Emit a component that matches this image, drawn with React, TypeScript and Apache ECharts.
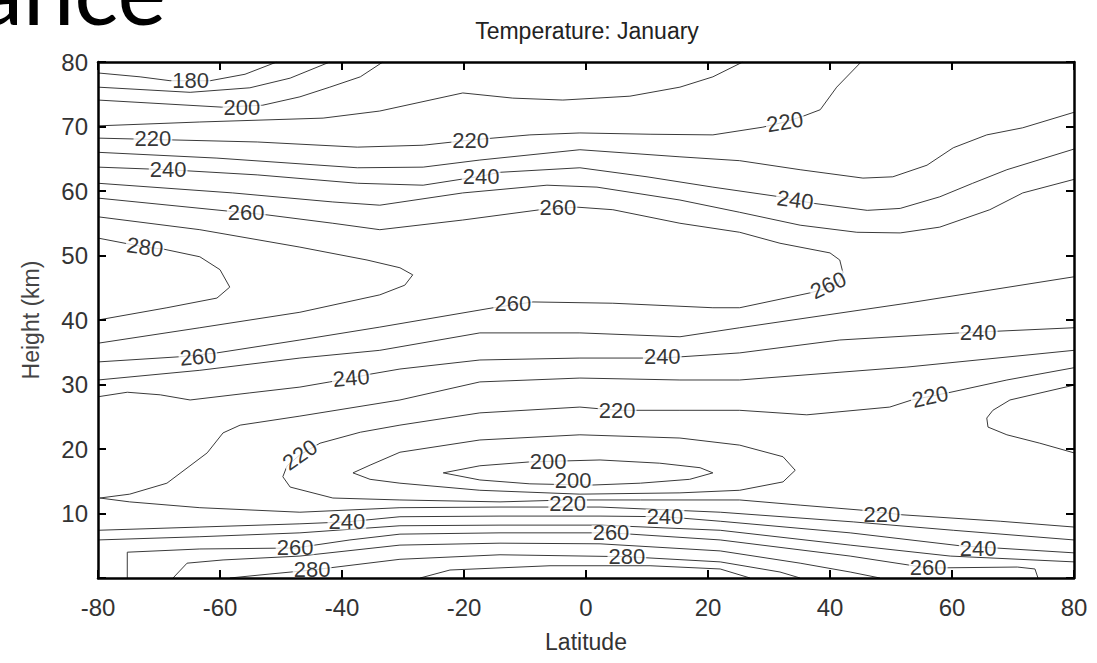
import React, { useEffect, useRef } from "react";
import * as echarts from "echarts";

// Contour lines, [latitude (deg), height (km)]
const c180 = [[-80, 78.3], [-73.1, 77.7], [-68.2, 77.1], [-61.6, 77.1], [-55.9, 78.1], [-50.7, 80]];
const c190 = [[-80, 76.1], [-64.9, 75.3], [-55.1, 76.0], [-48.5, 77.5], [-42.0, 80]];
const c200a = [[-80, 74.1], [-59.7, 73.0], [-53.0, 73.3], [-46.9, 74.6], [-42.0, 76.1], [-37.0, 77.7], [-33.3, 80]];
const c210a = [[-80, 70.1], [-63.3, 70.7], [-43.1, 71.3], [-33.8, 72.4], [-20.2, 75.2], [-12.0, 74.4], [-3.8, 74.1], [7.2, 74.7], [15.4, 76.1], [20.8, 77.7], [25.7, 80]];
const c220a = [[-80, 68.2], [-53.9, 67.6], [-37.5, 66.8], [-26.7, 67.1], [-18.9, 67.9], [-9.2, 68.7], [-1.0, 69.0], [10.5, 68.8], [20.8, 68.7], [29.0, 69.9], [32.6, 70.7], [35.6, 71.6], [38.4, 72.6], [41.1, 76.1], [45.1, 80]];
const c230a = [[-80, 66.0], [-60.5, 65.1], [-37.5, 63.6], [-26.7, 63.7], [-17.4, 64.8], [-1.0, 66.4], [15.4, 65.3], [25.2, 64.7], [35.1, 63.3], [45.4, 62.0], [50.3, 62.2], [55.9, 64.0], [60.2, 66.7], [65.7, 68.7], [71.6, 69.8], [80, 72.2]];
const c240a = [[-80, 63.7], [-68.5, 63.3], [-53.9, 62.5], [-37.5, 61.2], [-26.7, 60.9], [-17.2, 62.3], [-14.1, 62.9], [-1.0, 63.6], [10.0, 62.2], [20.8, 60.6], [31.8, 59.1], [34.3, 58.6], [37.2, 58.1], [46.1, 57.0], [51.5, 57.3], [58.0, 59.1], [63.4, 61.2], [69.0, 63.3], [80, 66.5]];
const c250a = [[-80, 61.2], [-57.9, 59.7], [-41.5, 58.3], [-33.8, 57.8], [-20.2, 59.7], [-6.4, 60.9], [1.8, 60.6], [15.4, 58.6], [25.2, 56.7], [35.1, 54.7], [44.4, 53.6], [51.5, 53.5], [58.0, 54.4], [66.2, 57.1], [71.6, 59.7], [80, 61.8]];
const c260a = [[-80, 58.9], [-55.7, 56.6], [-52.3, 56.3], [-41.5, 55.0], [-33.8, 54.0], [-20.2, 55.5], [-7.5, 57.1], [-1.5, 57.5], [4.4, 57.1], [15.4, 55.0], [25.2, 53.6], [31.8, 51.9], [40.0, 50.4], [41.6, 49.3], [42.1, 47.4], [41.3, 45.4], [36.7, 44.2], [25.2, 41.9], [20.8, 41.9], [4.4, 42.6], [-8.7, 42.8], [-15.2, 41.9], [-33.8, 38.9], [-46.9, 36.9], [-60.5, 34.9], [-66.6, 34.3], [-80, 33.5]];
const c270a = [[-80, 56.0], [-63.3, 54.0], [-46.9, 51.3], [-35.9, 49.3], [-30.5, 48.1], [-28.4, 47.0], [-29.7, 45.4], [-33.8, 43.9], [-46.9, 41.2], [-63.3, 38.8], [-80, 36.4]];
const c280a = [[-80, 52.7], [-72.3, 51.3], [-69.3, 51.0], [-63.3, 49.8], [-60.0, 47.8], [-58.4, 45.1], [-60.5, 43.4], [-68.7, 41.9], [-80, 40.0]];
const c250b = [[-80, 30.7], [-63.3, 32.2], [-46.9, 34.1], [-33.8, 35.3], [-17.4, 38.0], [-1.0, 38.0], [15.4, 37.4], [25.2, 38.8], [52.6, 42.6], [80, 46.7]];
const c240b = [[-80, 28.1], [-75.2, 28.8], [-69.8, 28.4], [-64.9, 27.6], [-55.1, 28.7], [-46.9, 29.6], [-42.0, 30.4], [-38.5, 31.0], [-35.4, 31.6], [-30.5, 32.4], [-17.4, 33.8], [-1.0, 34.1], [12.5, 34.1], [25.2, 34.9], [41.6, 36.9], [61.3, 38.0], [80, 38.8]];
const c230b = [[80, 35.3], [52.6, 32.7], [25.2, 30.7], [15.4, 30.7], [-1.0, 31.0], [-17.4, 30.4], [-30.5, 27.6], [-46.9, 25.1], [-56.7, 23.7], [-59.5, 22.5], [-62.1, 19.4], [-68.7, 14.7], [-74.8, 13.0], [-79.7, 12.4], [-74.8, 11.8], [-63.3, 10.9], [-46.9, 10.2], [-30.5, 10.9], [-14.1, 11.0], [2.3, 11.0], [22.0, 10.2], [43.8, 8.7], [60.2, 7.4], [80, 5.9]];
const c220b = [[80, 32.6], [69.0, 30.7], [59.3, 28.7], [53.4, 27.6], [49.8, 26.5], [36.2, 25.3], [25.2, 26.0], [15.4, 26.0], [5.1, 26.0], [-1.0, 26.5], [-17.4, 25.6], [-30.5, 23.7], [-37.0, 22.6], [-43.6, 20.9], [-46.9, 19.1], [-49.0, 17.4], [-49.7, 15.7], [-48.5, 14.1], [-41.5, 12.4], [-30.5, 12.1], [-14.1, 11.8], [-3.0, 12.1], [8.9, 12.1], [25.2, 12.1], [35.1, 11.3], [45.4, 10.5], [51.8, 9.8], [67.9, 8.8], [80, 7.9]];
const c210b = [[-38.2, 16.3], [-35.4, 17.5], [-30.5, 19.5], [-17.4, 21.4], [-1.0, 22.2], [15.4, 21.7], [25.2, 20.6], [32.3, 18.8], [34.3, 16.7], [32.3, 14.9], [25.2, 13.6], [15.4, 13.2], [-1.0, 13.0], [-17.4, 13.6], [-30.5, 14.7], [-35.4, 15.3], [-38.2, 16.3]];
const c200b = [[-23.4, 16.3], [-17.4, 17.4], [-9.2, 18.0], [2.3, 18.3], [12.1, 17.8], [18.7, 17.1], [20.8, 16.3], [17.0, 15.3], [8.9, 14.7], [0.7, 14.4], [-9.2, 14.6], [-17.4, 15.2], [-23.4, 16.3]];
const c210c = [[80, 29.9], [69.5, 27.6], [66.7, 26.0], [65.7, 24.8], [65.9, 23.4], [69.0, 22.2], [74.4, 20.9], [80, 19.4]];
const c240c = [[-80, 7.4], [-63.3, 7.9], [-46.9, 8.4], [-39.2, 8.7], [-30.5, 9.5], [-14.1, 9.6], [2.3, 9.6], [12.95, 9.5], [22.0, 8.8], [43.3, 7.0], [61.3, 5.0], [80, 3.9]];
const c250c = [[-80, 5.9], [-63.3, 6.4], [-46.9, 7.0], [-30.5, 8.1], [-14.1, 8.2], [2.3, 8.2], [22.0, 7.4], [43.3, 5.1], [59.7, 3.4], [80, 2.5]];
const c260c = [[-75.2, 0], [-75.2, 4.0], [-63.3, 4.5], [-47.7, 4.65], [-38.7, 5.9], [-30.5, 6.8], [-14.1, 7.0], [4.1, 7.0], [22.0, 5.9], [43.3, 3.4], [56.1, 1.55], [70.7, 1.7], [73.6, 1.4], [74.1, 0]];
const c270c = [[-67.7, 0], [-65.4, 2.3], [-59.5, 2.8], [-46.9, 3.4], [-30.5, 5.1], [-14.1, 5.4], [2.3, 5.3], [22.0, 4.2], [35.1, 2.3], [43.3, 0.93], [48.2, 0]];
const c280c = [[-58.4, 0], [-51.8, 0.62], [-44.9, 1.24], [-30.5, 2.9], [-14.1, 3.6], [6.7, 3.3], [22.0, 2.5], [31.8, 0.93], [35.1, 0]];
const c290c = [[-27.2, 0], [-22.3, 1.24], [-5.9, 1.9], [10.5, 1.9], [22.0, 1.4], [26.9, 0]];

// Contour labels: [latitude, height, text, rotation]
const contourLabels: [number, number, string, number][] = [
  [-64.8, 77.1, "180", 0], [-56.4, 73.0, "200", 0], [-71.0, 68.1, "220", 0], [-68.5, 63.3, "240", 0],
  [-55.7, 56.6, "260", 0], [-72.3, 51.3, "280", -8], [-18.9, 67.9, "220", 0], [-17.2, 62.3, "240", 0],
  [-4.6, 57.4, "260", 0], [32.6, 70.7, "220", 10], [34.3, 58.6, "240", -8], [39.7, 45.4, "260", 25],
  [-12.0, 42.6, "260", 0], [-63.6, 34.3, "260", 5], [-38.5, 31.0, "240", 5], [12.5, 34.3, "240", 0],
  [64.3, 38.0, "240", 0], [5.1, 26.0, "220", 0], [56.4, 28.1, "220", 12], [-46.9, 19.1, "220", 35],
  [-6.2, 18.0, "200", 0], [-2.1, 15.05, "200", 0], [-3.0, 11.55, "220", 0], [-39.2, 8.7, "240", 0],
  [12.95, 9.5, "240", 0], [-47.7, 4.8, "260", 0], [4.1, 7.0, "260", 0], [-44.9, 1.3, "280", 0],
  [6.7, 3.3, "280", 0], [48.5, 9.9, "220", 0], [64.3, 4.65, "240", 0], [56.1, 1.7, "260", 0],
];

const latTicks = [-80, -60, -40, -20, 0, 20, 40, 60, 80];
const heightTicks = [10, 20, 30, 40, 50, 60, 70, 80];

const contourLines = [
  c180, c190, c200a, c210a, c220a, c230a, c240a, c250a, c260a, c270a, c280a,
  c250b, c240b, c230b, c220b, c210b, c200b, c210c, c240c, c250c, c260c, c270c, c280c, c290c,
];

const FONT = "Liberation Sans, Arial, sans-serif";

export default function App() {
  const ref = useRef<HTMLDivElement>(null);
  useEffect(() => {
    if (!ref.current) return;
    const chart = echarts.init(ref.current, null, { renderer: "svg" });
    const frameLine = { color: "#000", width: 2.5 };
    const tick = { inside: true, length: 8, lineStyle: { color: "#000", width: 2 } };
    const option: any = {
      animation: false,
      backgroundColor: "#fff",
      grid: { left: 98, right: 23, top: 62, bottom: 85, containLabel: false },
      xAxis: [
        {
          type: "value", min: latTicks[0], max: latTicks[latTicks.length - 1], interval: 20,
          position: "bottom", z: 10,
          axisLine: { show: true, onZero: false, lineStyle: frameLine },
          axisTick: tick,
          splitLine: { show: false },
          axisLabel: { fontSize: 24, color: "#333", fontFamily: FONT, margin: 17 },
          name: "Latitude", nameLocation: "middle", nameGap: 52,
          nameTextStyle: { fontSize: 23, color: "#333", fontFamily: FONT },
        },
        {
          type: "value", min: latTicks[0], max: latTicks[latTicks.length - 1], interval: 20,
          position: "top", z: 10,
          axisLine: { show: true, onZero: false, lineStyle: frameLine },
          axisTick: tick, axisLabel: { show: false }, splitLine: { show: false },
        },
      ],
      yAxis: [
        {
          type: "value", min: 0, max: heightTicks[heightTicks.length - 1], interval: 10,
          position: "left", z: 10,
          axisLine: { show: true, onZero: false, lineStyle: frameLine },
          axisTick: tick,
          splitLine: { show: false },
          axisLabel: {
            fontSize: 24, color: "#333", fontFamily: FONT, margin: 10,
            formatter: (v: number) => (heightTicks.includes(v) ? String(v) : ""),
          },
          name: "Height (km)", nameLocation: "middle", nameGap: 56,
          nameTextStyle: { fontSize: 23, color: "#444", fontFamily: FONT },
        },
        {
          type: "value", min: 0, max: 80, interval: 10, position: "right", z: 10,
          axisLine: { show: true, onZero: false, lineStyle: frameLine },
          axisTick: tick, axisLabel: { show: false }, splitLine: { show: false },
        },
      ],
      graphic: [
        {
          type: "text", x: 587, y: 19, z: 20,
          style: { text: "Temperature: January", font: `23px ${FONT}`, fill: "#222", textAlign: "center", textVerticalAlign: "top" },
        },
        {
          type: "text", x: 166, y: 35, z: 20,
          style: { text: "ance", font: `92px Lato, "Open Sans", sans-serif`, fill: "#000", textAlign: "right", textVerticalAlign: "bottom" },
        },
      ],
      series: [
        ...contourLines.map((d) => ({
          type: "line", data: d, symbol: "none", showSymbol: false, silent: true,
          lineStyle: { color: "#3a3a3a", width: 1 }, z: 2, clip: true,
        })),
        {
          type: "scatter", symbolSize: 0, silent: true, z: 5,
          itemStyle: { color: "rgba(0,0,0,0)" },
          data: contourLabels.map((l) => ({
            value: [l[0], l[1]],
            label: {
              show: true, position: "inside", formatter: l[2], rotate: l[3],
              fontSize: 22, color: "#000", fontFamily: FONT, lineHeight: 15,
              backgroundColor: "#fff", padding: [0, 1],
            },
          })),
        },
      ],
    };
    chart.setOption(option);
    return () => chart.dispose();
  }, []);
  return <div ref={ref} style={{ position: "absolute", left: 0, top: 0, width: 1097, height: 663 }} />;
}
